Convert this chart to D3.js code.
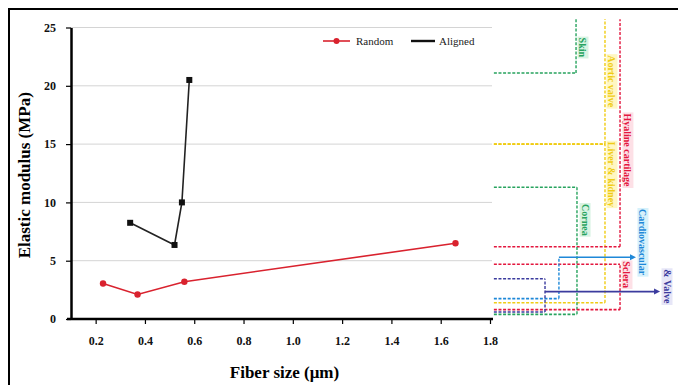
<!DOCTYPE html>
<html>
<head>
<meta charset="utf-8">
<script src="https://cdn.jsdelivr.net/npm/d3@7"></script>
<style>
  body { margin: 0; background: #fff; }
  svg { display: block; font-family: "Liberation Serif", "Times New Roman", serif; }
</style>
</head>
<body>
<svg id="chart" width="678" height="385"></svg>
<script>
// Measured series
const randomX = [0.23, 0.37, 0.56, 1.66];
const randomY = [3.05, 2.1, 3.2, 6.5];
const alignedX = [0.34, 0.52, 0.55, 0.58];
const alignedY = [8.25, 6.35, 10.0, 20.5];
const seriesNames = ['Random', 'Aligned'];

const xTicks = [0.2, 0.4, 0.6, 0.8, 1.0, 1.2, 1.4, 1.6, 1.8];
const yTicks = [0, 5, 10, 15, 20, 25];

// Tissue reference brackets (right side), levels in MPa, lanes in % of panel width
const tissueNames = ['Skin', 'Aortic valve', 'Liver & kidney', 'Hyaline cartilage', 'Cornea', 'Sclera', 'Cardiovascular', '& Valve'];
const tissueColors = ['#27a35e', '#f0cc14', '#f0cc14', '#e3173e', '#27a35e', '#e3173e', '#1e88d8', '#3b3b9e'];
const tissueLow = [21.1, 15.0, 1.4, 6.2, 0.4, 0.8, 1.75, 0.6];
const tissueHigh = [25.7, 25.7, 15.0, 25.7, 11.3, 4.7, 5.3, 3.45];
const tissueHighLine = [0, 0, 1, 0, 1, 1, 0, 1];
const tissueLane = [44.7, 60.1, 60.1, 68.1, 45.2, 68.1, 35.6, 28.2];
const tissueArrowAt = [null, null, null, null, null, null, 5.3, 2.35];
const tissueArrowTo = [null, null, null, null, null, null, 76.6, 89.4];
const tissueLabelLane = [48.4, 63.8, 63.8, 72.3, 49.5, 71.8, 80.3, 93.1];
const tissueLabelMid = [23.3, 20.4, 12.4, 14.5, 8.5, 3.8, 6.6, 2.8];
const tissueLabelBg = ['#d8f3e2', '#fff7c2', '#fff7c2', '#fde0e6', '#d8f3e2', '#fde0e6', '#d6f1fb', '#e6e6f7'];

const svg = d3.select('#chart');

// outer frame
svg.append('rect')
  .attr('x', 9).attr('y', 9)
  .attr('width', 700).attr('height', 400)
  .attr('fill', 'none').attr('stroke', '#000').attr('stroke-width', 2);

const x = d3.scaleLinear().domain([0.1, 1.8]).range([71, 490]);
const y = d3.scaleLinear().domain([0, 25]).range([319, 27.5]);
const lane = d3.scaleLinear().domain([0, 100]).range([492, 680]);

// gridlines
svg.append('g')
  .selectAll('line')
  .data(yTicks.filter(d => d > 0))
  .enter().append('line')
  .attr('x1', x(0.1)).attr('x2', x(1.8) + 2)
  .attr('y1', d => y(d)).attr('y2', d => y(d))
  .attr('stroke', '#d4d4d4').attr('stroke-width', 1);

// axes
const xAxis = svg.append('g')
  .attr('transform', `translate(0,${y(0)})`)
  .call(d3.axisBottom(x).tickValues(xTicks).tickFormat(d3.format('.1f')).tickSize(5).tickPadding(12).tickSizeOuter(0));
const yAxis = svg.append('g')
  .attr('transform', `translate(${x(0.1)},0)`)
  .call(d3.axisLeft(y).tickValues(yTicks).tickSize(5).tickPadding(10).tickSizeOuter(0));

[xAxis, yAxis].forEach(a => {
  a.select('.domain').attr('stroke', '#000').attr('stroke-width', 2.5);
  a.selectAll('.tick line').attr('stroke', '#000').attr('stroke-width', 1.2);
  a.selectAll('.tick text')
    .attr('fill', '#111')
    .style('font-family', '"Liberation Serif", serif')
    .style('font-size', '12px')
    .style('font-weight', 'bold');
});
xAxis.select('.domain').attr('d', `M${x(0.1) - 4},0H${x(1.8) + 3}`);

// axis titles
svg.append('text')
  .attr('transform', `translate(30,${(y(0) + y(25)) / 2 + 2}) rotate(-90)`)
  .attr('text-anchor', 'middle')
  .style('font-size', '17px').style('font-weight', 'bold')
  .text('Elastic modulus (MPa)');
svg.append('text')
  .attr('x', (x(0.1) + x(1.8)) / 2 + 4).attr('y', 378)
  .attr('text-anchor', 'middle')
  .style('font-size', '17px').style('font-weight', 'bold')
  .text('Fiber size (μm)');

// series
const line = d3.line().x(d => x(d[0])).y(d => y(d[1]));
const randomData = d3.zip(randomX, randomY);
const alignedData = d3.zip(alignedX, alignedY);

svg.append('path').datum(randomData)
  .attr('d', line).attr('fill', 'none')
  .attr('stroke', '#d9222e').attr('stroke-width', 1.6);
svg.append('g').selectAll('circle').data(randomData)
  .enter().append('circle')
  .attr('cx', d => x(d[0])).attr('cy', d => y(d[1])).attr('r', 3.2)
  .attr('fill', '#d9222e');

svg.append('path').datum(alignedData)
  .attr('d', line).attr('fill', 'none')
  .attr('stroke', '#222').attr('stroke-width', 1.6);
svg.append('g').selectAll('rect').data(alignedData)
  .enter().append('rect')
  .attr('x', d => x(d[0]) - 3).attr('y', d => y(d[1]) - 3)
  .attr('width', 6).attr('height', 6)
  .attr('fill', '#111');

// legend
const legend = svg.append('g').attr('transform', 'translate(323,41)');
legend.append('line').attr('x1', 0).attr('x2', 27).attr('stroke', '#d9222e').attr('stroke-width', 1.6);
legend.append('circle').attr('cx', 13.5).attr('r', 3).attr('fill', '#d9222e');
legend.append('text').attr('x', 33).attr('y', 4).style('font-size', '11px').attr('fill', '#222').text(seriesNames[0]);
legend.append('line').attr('x1', 88).attr('x2', 112).attr('stroke', '#111').attr('stroke-width', 2.4);
legend.append('text').attr('x', 116).attr('y', 4).style('font-size', '11px').attr('fill', '#222').text(seriesNames[1]);

// tissue brackets
const tg = svg.append('g');
const dash = '3,1.6';
tissueNames.forEach((name, i) => {
  const c = tissueColors[i];
  const lx = lane(tissueLane[i]);
  const low = tissueLow[i], high = tissueHigh[i];
  // horizontal at low level
  tg.append('line')
    .attr('x1', lane(1)).attr('x2', lx)
    .attr('y1', y(low)).attr('y2', y(low))
    .attr('stroke', c).attr('stroke-width', 1.6).attr('stroke-dasharray', dash);
  if (tissueHighLine[i]) {
    tg.append('line')
      .attr('x1', lane(1)).attr('x2', lx)
      .attr('y1', y(high)).attr('y2', y(high))
      .attr('stroke', c).attr('stroke-width', 1.6).attr('stroke-dasharray', dash);
  }
  // vertical connector
  tg.append('line')
    .attr('x1', lx).attr('x2', lx)
    .attr('y1', y(low)).attr('y2', y(Math.min(high, 25.7)))
    .attr('stroke', c).attr('stroke-width', 1.4).attr('stroke-dasharray', dash);
  // arrow
  if (tissueArrowAt[i] !== null) {
    const ay = y(tissueArrowAt[i]);
    const ax = lane(tissueArrowTo[i]);
    tg.append('line')
      .attr('x1', lx).attr('x2', ax - 4)
      .attr('y1', ay).attr('y2', ay)
      .attr('stroke', c).attr('stroke-width', 1.6);
    tg.append('path')
      .attr('d', `M${ax},${ay}L${ax - 6},${ay - 3}L${ax - 6},${ay + 3}Z`)
      .attr('fill', c);
  }
  // label
  const lg = tg.append('g')
    .attr('transform', `translate(${lane(tissueLabelLane[i])},${y(tissueLabelMid[i])}) rotate(90)`);
  const t = lg.append('text')
    .attr('text-anchor', 'middle').attr('dy', '0.35em')
    .style('font-size', '10px').style('font-weight', 'bold')
    .attr('fill', c)
    .text(name);
  const bb = t.node().getBBox();
  lg.insert('rect', 'text')
    .attr('x', bb.x - 1).attr('y', bb.y).attr('width', bb.width + 2).attr('height', bb.height)
    .attr('fill', tissueLabelBg[i]);
});
</script>
</body>
</html>
